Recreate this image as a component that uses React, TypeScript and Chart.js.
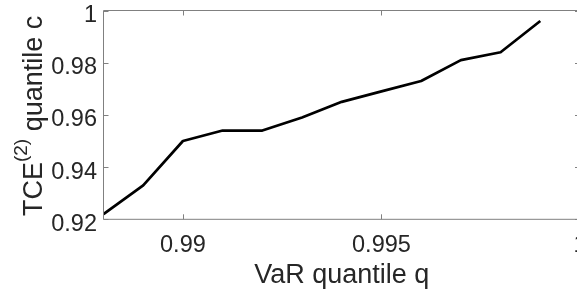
import React, { useEffect, useRef } from "react";
import { Chart, registerables } from "chart.js";

Chart.register(...registerables);

const qValues = [0.988, 0.989, 0.99, 0.991, 0.992, 0.993, 0.994, 0.995, 0.996, 0.997, 0.998, 0.999];
const cValues = [0.922, 0.933, 0.95, 0.954, 0.954, 0.959, 0.965, 0.969, 0.973, 0.981, 0.984, 0.996];

const xTicks = [0.99, 0.995, 1];
const xTickLabels = ["0.99", "0.995", "1"];
const yTicks = [0.92, 0.94, 0.96, 0.98, 1];
const yTickLabels = ["0.92", "0.94", "0.96", "0.98", "1"];

const xTitle = "VaR quantile q";
const yTitleMain = "TCE";
const yTitleSup = "(2)";
const yTitleRest = " quantile c";

const FONT = "'Liberation Sans', Arial, Helvetica, sans-serif";
const TEXT = "#262626";
const AXIS = "#808080";

const CANVAS_W = 590;
const CANVAS_H = 292;

const axesPlugin = {
  id: "matlabAxes",
  afterDraw(chart: any) {
    const ctx = chart.ctx as CanvasRenderingContext2D;
    const { left, right, top, bottom } = chart.chartArea;
    const xs = chart.scales.x;
    const ys = chart.scales.y;
    ctx.save();
    // box
    ctx.strokeStyle = AXIS;
    ctx.lineWidth = 1;
    ctx.beginPath();
    ctx.rect(left, top, right - left, bottom - top);
    ctx.stroke();
    // ticks
    const tl = 5;
    ctx.beginPath();
    xTicks.forEach((v) => {
      const px = Math.round(xs.getPixelForValue(v)) + 0.5;
      ctx.moveTo(px, bottom);
      ctx.lineTo(px, bottom - tl);
      ctx.moveTo(px, top);
      ctx.lineTo(px, top + tl);
    });
    yTicks.forEach((v) => {
      const py = Math.round(ys.getPixelForValue(v)) + 0.5;
      ctx.moveTo(left, py);
      ctx.lineTo(left + tl, py);
      ctx.moveTo(right, py);
      ctx.lineTo(right - tl, py);
    });
    ctx.stroke();
    // tick labels
    ctx.fillStyle = TEXT;
    ctx.font = `23.5px ${FONT}`;
    ctx.textAlign = "center";
    ctx.textBaseline = "alphabetic";
    xTicks.forEach((v, i) => {
      ctx.fillText(xTickLabels[i], xs.getPixelForValue(v), bottom + 32.4);
    });
    ctx.textAlign = "right";
    yTicks.forEach((v, i) => {
      ctx.fillText(yTickLabels[i], left - 6.5, ys.getPixelForValue(v) + 11.4);
    });
    // x title
    ctx.font = `27px ${FONT}`;
    ctx.textAlign = "center";
    ctx.fillText(xTitle, (left + right) / 2, 283);
    // y title (rotated)
    const mainFont = `27px ${FONT}`;
    const supFont = `19px ${FONT}`;
    ctx.font = mainFont;
    const w1 = ctx.measureText(yTitleMain).width;
    const w3 = ctx.measureText(yTitleRest).width;
    ctx.font = supFont;
    const w2 = ctx.measureText(yTitleSup).width;
    const total = w1 + w2 + w3;
    const cy = (top + bottom) / 2 + 1;
    ctx.translate(41.7, cy);
    ctx.rotate(-Math.PI / 2);
    ctx.textAlign = "left";
    let x0 = -total / 2;
    ctx.font = mainFont;
    ctx.fillText(yTitleMain, x0, 0);
    x0 += w1;
    ctx.font = supFont;
    ctx.fillText(yTitleSup, x0, -15);
    x0 += w2;
    ctx.font = mainFont;
    ctx.fillText(yTitleRest, x0, 0);
    ctx.restore();
  },
};

export default function App() {
  const ref = useRef<HTMLCanvasElement | null>(null);
  useEffect(() => {
    if (!ref.current) return;
    const chart = new Chart(ref.current, {
      type: "line",
      data: {
        datasets: [
          {
            data: qValues.map((q, i) => ({ x: q, y: cValues[i] })),
            borderColor: "#000000",
            borderWidth: 2.7,
            pointRadius: 0,
            tension: 0,
            fill: false,
            borderJoinStyle: "round",
            borderCapStyle: "butt",
          },
        ],
      },
      options: {
        responsive: false,
        animation: false,
        layout: { padding: { left: 103.5, top: 10.5, right: CANVAS_W - 580, bottom: CANVAS_H - 219.3 } },
        plugins: { legend: { display: false }, tooltip: { enabled: false } },
        scales: {
          x: { type: "linear", min: 0.988, max: 1.0, display: false },
          y: { type: "linear", min: 0.92, max: 1.0, display: false },
        },
      },
      plugins: [axesPlugin],
    });
    return () => chart.destroy();
  }, []);
  return (
    <div
      style={{
        position: "fixed",
        left: 0,
        top: 0,
        width: 577,
        height: 292,
        overflow: "hidden",
        background: "#ffffff",
      }}
    >
      <canvas ref={ref} width={CANVAS_W} height={CANVAS_H} style={{ display: "block" }} />
    </div>
  );
}
